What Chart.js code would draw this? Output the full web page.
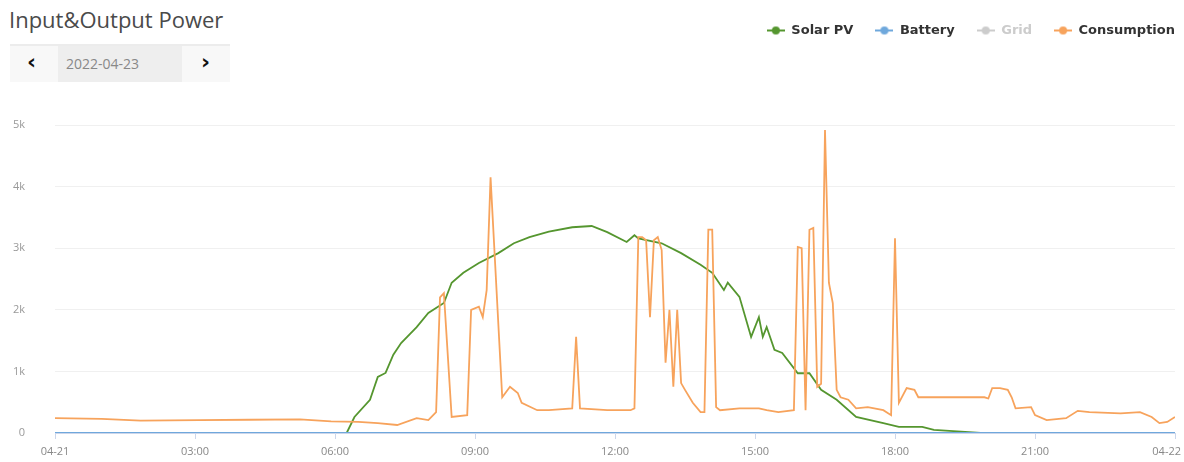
<!DOCTYPE html>
<html>
<head>
<meta charset="utf-8">
<script src="https://cdn.jsdelivr.net/npm/chart.js@4.4.1/dist/chart.umd.min.js"></script>
<style>
  html, body { margin: 0; padding: 0; background: #fff; }
  body { width: 1184px; height: 462px; position: relative; overflow: hidden; font-family: "Open Sans", "DejaVu Sans", sans-serif; }
  #title { position: absolute; left: 9px; top: 4px; font-size: 22px; color: #4a4a4a; }
  #nav { position: absolute; left: 10px; top: 44px; width: 220px; height: 36px; background: #f8f8f8; border-top: 2px solid #ececec; }
  #nav .arr { position: absolute; top: 3px; font-size: 22px; font-weight: bold; color: #111; font-family: "DejaVu Sans", sans-serif; }
  #nav .date { position: absolute; left: 48px; top: 0; width: 124px; height: 36px; background: #eeeeee; color: #888; font-size: 14px; line-height: 36px; padding-left: 8px; box-sizing: border-box; }
  #wrap { position: absolute; left: 0; top: 0; width: 1184px; height: 462px; }
  canvas { display: block; }
</style>
</head>
<body>
<div id="title">Input&amp;Output Power</div>
<div id="nav"><span class="arr" style="left:17px">&#x2039;</span><div class="date">2022-04-23</div><span class="arr" style="left:191px">&#x203A;</span></div>
<div id="wrap"><canvas id="c" width="1184" height="462" style="width:1184px;height:462px"></canvas></div>
<script>
// ---- data ----
const seriesNames = ['Solar PV', 'Battery', 'Grid', 'Consumption'];
const xTickHours = [0, 3, 6, 9, 12, 15, 18, 21, 24];
const xTickLabels = ['04-21', '03:00', '06:00', '09:00', '12:00', '15:00', '18:00', '21:00', '04-22'];
const yTickValues = [0, 1000, 2000, 3000, 4000, 5000];
const yTickLabels = ['0', '1k', '2k', '3k', '4k', '5k'];

const solarTimes = ['00:00','06:15','06:25','06:45','06:55','07:05','07:15','07:25','07:45','08:00','08:20','08:30','08:45','09:05','09:30','09:50','10:10','10:35','11:05','11:30','11:50','12:15','12:25','12:30','13:00','13:25','13:50','14:05','14:20','14:25','14:40','14:55','15:05','15:10','15:15','15:25','15:35','15:55','16:10','16:25','16:45','17:10','17:45','18:05','18:35','18:50','19:35','19:50','24:00'];
const solarValues = [0,0,260,540,910,975,1270,1460,1720,1950,2110,2440,2600,2760,2920,3080,3180,3270,3340,3360,3260,3100,3210,3160,3080,2920,2730,2600,2320,2440,2210,1560,1880,1560,1720,1350,1300,970,970,700,540,260,160,100,100,50,15,0,0];

const batteryTimes = ['00:00','06:00','12:00','18:00','24:00'];
const batteryValues = [0,0,0,0,0];

const gridTimes = ['00:00','24:00'];
const gridValues = [0,0];

const consTimes = ['00:00','01:00','01:50','03:05','04:10','05:15','05:55','06:30','06:55','07:20','07:45','08:00','08:10','08:15','08:20','08:30','08:50','08:55','09:05','09:10','09:15','09:20','09:35','09:45','09:55','10:00','10:20','10:35','11:05','11:10','11:15','11:50','12:20','12:25','12:30','12:35','12:40','12:45','12:50','12:55','13:00','13:05','13:10','13:15','13:20','13:25','13:30','13:40','13:50','13:55','14:00','14:05','14:10','14:15','14:40','15:05','15:15','15:30','15:50','15:55','16:00','16:05','16:10','16:15','16:20','16:25','16:30','16:35','16:40','16:45','16:50','17:00','17:10','17:25','17:45','17:55','18:00','18:05','18:15','18:25','18:30','19:55','20:00','20:05','20:15','20:25','20:30','20:35','20:55','21:00','21:15','21:40','21:55','22:10','22:50','23:15','23:30','23:40','23:50','24:00'];
const consValues = [240,230,200,210,215,220,190,180,160,130,240,210,340,2200,2270,260,290,2000,2050,1880,2320,4150,580,750,650,490,370,370,400,1560,400,370,370,400,3180,3180,3130,1880,3130,3180,2970,1140,2000,750,2000,810,700,490,340,340,3300,3300,420,370,400,400,370,340,370,3020,3000,370,3300,3330,750,800,4920,2440,2110,700,580,540,400,420,370,290,3160,490,730,700,580,580,560,730,730,700,580,400,420,290,210,240,360,340,320,340,260,160,180,260];

// ---- helpers ----
function toHours(t) { const p = t.split(':'); return +p[0] + (+p[1]) / 60; }
function pts(times, values) { return times.map((t, i) => ({ x: toHours(t), y: values[i] })); }

const colors = { solar: '#55962f', battery: '#6fa8dc', grid: '#cccccc', cons: '#f7a35c' };

function symbol(color) {
  const cv = document.createElement('canvas');
  cv.width = 18; cv.height = 10;
  const g = cv.getContext('2d');
  g.strokeStyle = color; g.lineWidth = 2;
  g.beginPath(); g.moveTo(0, 5); g.lineTo(18, 5); g.stroke();
  g.fillStyle = color; g.beginPath(); g.arc(9, 5, 4, 0, Math.PI * 2); g.fill();
  return cv;
}
const symColors = [colors.solar, colors.battery, colors.grid, colors.cons];
const symbols = symColors.map(symbol);

const layoutTweaks = {
  id: 'layoutTweaks',
  afterInit(chart) {
    const lg = chart.legend;
    const fit = lg.fit;
    lg.fit = function () { fit.call(this); this.height = 123; };
  },
  afterLayout(chart) {
    const lg = chart.legend;
    lg.left += 22; lg.right += 22;
  },
  beforeDraw(chart) {
    const s = chart.scales.x;
    s._labelItems = null;
    const items = s.getLabelItems();
    const last = items[items.length - 1];
    if (last) { last.options.textAlign = 'right'; last.options.translation[0] += 6; }
  }
};

new Chart(document.getElementById('c'), {
  type: 'line',
  data: {
    datasets: [
      { label: seriesNames[0], data: pts(solarTimes, solarValues), borderColor: colors.solar, backgroundColor: colors.solar, borderWidth: 1.8, pointRadius: 0, tension: 0, order: 1 },
      { label: seriesNames[1], data: pts(batteryTimes, batteryValues), borderColor: colors.battery, backgroundColor: colors.battery, borderWidth: 1.8, pointRadius: 0, order: -1 },
      { label: seriesNames[2], data: pts(gridTimes, gridValues), borderColor: colors.grid, backgroundColor: colors.grid, borderWidth: 1.8, pointRadius: 0, hidden: true, order: 2 },
      { label: seriesNames[3], data: pts(consTimes, consValues), borderColor: colors.cons, backgroundColor: colors.cons, borderWidth: 1.8, pointRadius: 0, tension: 0, order: 0 }
    ]
  },
  options: {
    responsive: false,
    maintainAspectRatio: false,
    animation: false,
    events: [],
    layout: { padding: { top: 2, left: 0, right: 9, bottom: 0 } },
    plugins: {
      tooltip: { enabled: false },
      legend: {
        position: 'top',
        align: 'end',
        labels: {
          usePointStyle: true,
          pointStyleWidth: 18,
          padding: 22,
          color: '#333',
          font: { family: '"DejaVu Sans", sans-serif', size: 13, weight: 'bold' },
          generateLabels(chart) {
            return chart.data.datasets.map((ds, i) => ({
              text: ds.label,
              fillStyle: symColors[i],
              strokeStyle: symColors[i],
              lineWidth: 0,
              hidden: false,
              fontColor: ds.hidden ? '#cccccc' : '#333333',
              pointStyle: symbols[i],
              datasetIndex: i
            }));
          }
        }
      }
    },
    scales: {
      x: {
        type: 'linear',
        min: 0, max: 24,
        afterBuildTicks(scale) { scale.ticks = xTickHours.map(v => ({ value: v })); },
        ticks: {
          autoSkip: false, maxRotation: 0,
          color: '#888', padding: 6,
          font: { family: '"Open Sans", "DejaVu Sans", sans-serif', size: 11 },
          callback(v) { const i = xTickHours.indexOf(v); return i >= 0 ? xTickLabels[i] : ''; }
        },
        grid: { display: true, drawOnChartArea: false, color: '#ccd6eb', tickLength: 6 },
        border: { display: true, color: '#ccd6eb' },
        afterFit(scale) { scale.height = 29; scale.paddingRight = 9; }
      },
      y: {
        min: 0, max: 5000,
        afterBuildTicks(scale) { scale.ticks = yTickValues.map(v => ({ value: v })); },
        ticks: {
          color: '#999', padding: 30,
          font: { family: '"Open Sans", "DejaVu Sans", sans-serif', size: 11 },
          callback(v) { const i = yTickValues.indexOf(v); return i >= 0 ? yTickLabels[i] : ''; }
        },
        grid: { color: '#f0f0f0', drawTicks: false },
        border: { display: false },
        afterFit(scale) { scale.width = 55; scale.paddingTop = 0; scale.paddingBottom = 0; }
      }
    }
  },
  plugins: [layoutTweaks]
});
</script>
</body>
</html>
